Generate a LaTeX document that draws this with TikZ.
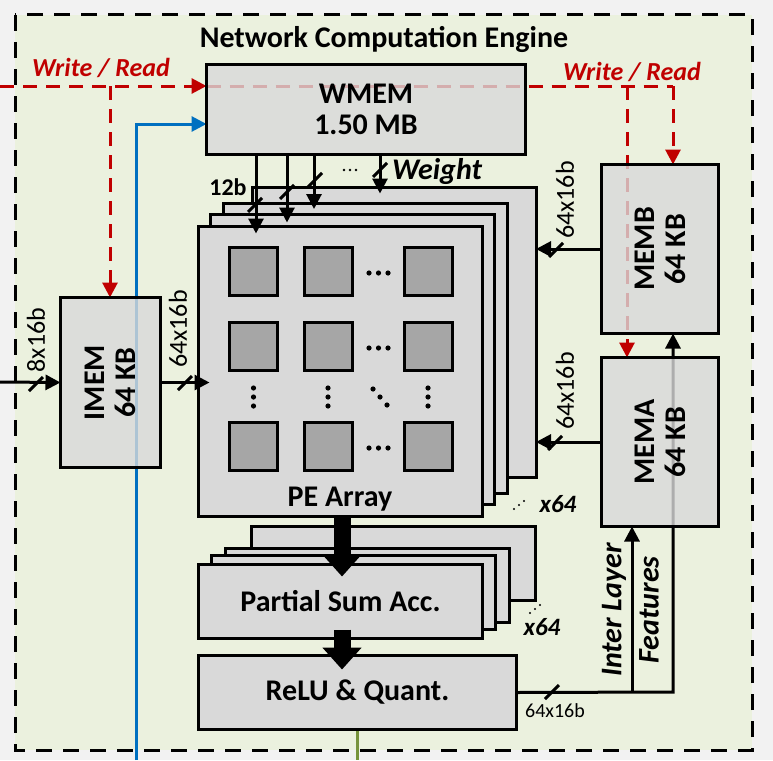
\documentclass[tikz,border=0pt]{standalone}
\usepackage{fontspec}
\setmainfont{Carlito}
\usetikzlibrary{arrows.meta}
\definecolor{pagegray}{HTML}{F2F2F2}
\definecolor{enggreen}{HTML}{EBF1DE}
\definecolor{boxgray}{HTML}{D9D9D9}
\definecolor{cellgray}{HTML}{A6A6A6}
\definecolor{wrred}{HTML}{C00000}
\definecolor{cfgblue}{HTML}{0070C0}
\definecolor{outgreen}{HTML}{77933C}
\pgfdeclarelayer{background}
\pgfdeclarelayer{lines}
\pgfsetlayers{background,lines,main}
\begin{document}
\begin{tikzpicture}
    [x=1pt,y=-1pt,>={Triangle[width=15pt,length=15pt]},
     every path/.style={line width=3pt},
     every node/.style={inner sep=0pt,outer sep=0pt},
     box/.style={draw,fill=boxgray,align=center,font=\bfseries\fontsize{30}{31}\selectfont},
     membox/.style={box,fill opacity=.8,text opacity=1},
     boxtext/.style={align=center,font=\bfseries\fontsize{30}{31}\selectfont},
     cell/.style={draw,fill=cellgray,minimum size=48pt},
     bus/.style={font=\fontsize{26}{26}\selectfont},
     note/.style={font=\bfseries\itshape\fontsize{30}{31}\selectfont},
     wr/.style={draw=wrred,dash pattern=on 14pt off 9pt},
     cfg/.style={draw=cfgblue},
     outp/.style={draw=outgreen},
     big/.style={line width=17pt,-{Triangle[width=38pt,length=22pt]}}]
    \useasboundingbox (0,0) rectangle (773,760);

    % engine frame
    \begin{pgfonlayer}{background}
        \fill[pagegray] (0,0) rectangle (773,760);
        \fill[enggreen] (15,15) rectangle (752,750);
        \draw[dash pattern=on 16pt off 11pt] (15,15) rectangle (752,750);
    \end{pgfonlayer}
    \node[font=\bfseries\fontsize{30}{30}\selectfont] (title) at (384,39) {Network Computation Engine};

    % memories
    \node[membox,minimum width=319pt,minimum height=90pt] (WMEM) at (366,109.5) {WMEM\\1.50 MB};
    \node[membox,minimum width=100pt,minimum height=170pt] (IMEM) at (110.5,382.5) {};
    \node[boxtext,rotate=90] at (IMEM) {IMEM\\64 KB};
    \node[membox,minimum width=117pt,minimum height=169pt] (MEMB) at (660,249) {};
    \node[boxtext,rotate=90] at (MEMB) {MEMB\\64 KB};
    \node[membox,minimum width=117pt,minimum height=169pt] (MEMA) at (660,442) {};
    \node[boxtext,rotate=90] at (MEMA) {MEMA\\64 KB};

    % PE array stack
    \node[box,minimum width=284pt,minimum height=290pt] (PE4) at (394,332.5) {};
    \node[box,minimum width=284pt,minimum height=290pt] (PE3) at (365.5,348) {};
    \node[box,minimum width=284pt,minimum height=290pt] (PE2) at (352.5,359.5) {};
    \node[box,minimum width=284pt,minimum height=290pt] (PE1) at (340.5,371.5) {};
    \foreach \c/\x in {1/253.5,2/328,3/428}
        \foreach \r/\y in {1/271.5,2/346.5,3/446.5}
            \node[cell] (c\r\c) at (\x,\y) {};
    \foreach \y in {273,348,448}
        \foreach \x in {369,378.5,388}
            \fill (\x,\y) circle (2.6pt);
    \foreach \x in {253.5,328,428}
        \foreach \y in {388,397,406}
            \fill (\x,\y) circle (2.6pt);
    \fill (373,389) circle (2.6pt) (380,397) circle (2.6pt) (387,405) circle (2.6pt);
    \node[boxtext] (pelabel) at (340,499) {PE Array};

    % partial sum stack and relu
    \node[box,minimum width=284pt,minimum height=74pt] (PS4) at (393,563.5) {};
    \node[box,minimum width=284pt,minimum height=74pt] (PS3) at (367.5,585) {};
    \node[box,minimum width=284pt,minimum height=74pt] (PS2) at (353,592.5) {};
    \node[box,minimum width=284pt,minimum height=74pt] (PS1) at (340.5,601.5) {Partial Sum Acc.};
    \node[box,minimum width=318pt,minimum height=74pt] (ReLU) at (357.5,692.5) {ReLU \& Quant.};

    % lines running under the memories
    \coordinate (rA) at (0,86);
    \coordinate (rB) at (673,86);
    \coordinate (rC) at (627,86);
    \coordinate (rD) at (110,86);
    \coordinate (bS) at (136,760);
    \coordinate (fJ) at (673,692);
    \coordinate (fK) at (632,692);
    \begin{pgfonlayer}{lines}
        \draw[wr,->] (rA) -- (rA -| WMEM.west);
        \draw[wr] (rA -| WMEM.west) -- (rB);
        \draw[wr,->] (rB) -- (rB |- MEMB.north);
        \draw[wr,->] (rC) -- (rC |- MEMA.north);
        \draw[wr,->] (rD) -- (rD |- IMEM.north);
        \draw[cfg,->] (bS) |- ([yshift=-14.5pt]WMEM.west);
        \draw[->] (ReLU.east) -- (fJ) -- (fJ |- MEMB.south);
        \draw[->] (fK) -- (fK |- MEMA.south);
        \draw[outp] (ReLU.south) -- (ReLU.south |- bS);
    \end{pgfonlayer}
    \node[font=\bfseries\itshape\fontsize{26}{26}\selectfont,text=wrred] (wrl) at (101,68) {Write / Read};
    \node[font=\bfseries\itshape\fontsize{26}{26}\selectfont,text=wrred] (wrr) at (632,72) {Write / Read};

    % weight buses
    \coordinate (w1) at (256,156);
    \coordinate (w2) at (287,156);
    \coordinate (w3) at (314,156);
    \coordinate (w4) at (380,156);
    \draw[->] (w1) -- ([yshift=-7pt]w1 |- PE1.north);
    \draw[->] (w2) -- ([yshift=-8pt]w2 |- PE2.north);
    \draw[->] (w3) -- ([yshift=-6pt]w3 |- PE3.north);
    \draw[->] (w4) -- ([yshift=-6pt]w4 |- PE4.north);
    \draw (255,205) ++(-7,7) -- ++(14,-14);
    \draw (287,192) ++(-7,7) -- ++(14,-14);
    \draw (315,180) ++(-7,7) -- ++(14,-14);
    \draw (380,170) ++(-7,7) -- ++(14,-14);
    \fill (344,170) circle (1.4pt) (350,170) circle (1.4pt) (356,170) circle (1.4pt);
    \node[font=\bfseries\fontsize{24}{24}\selectfont] (wbits) at (228,187) {12b};
    \node[note] (wlabel) at (437,172) {Weight};

    % feature buses
    \coordinate (in) at (0,382);
    \draw[->] (in) -- (IMEM.west);
    \draw[->] (IMEM.east) -- ([xshift=11pt]IMEM.east -| PE1.west);
    \draw[->] (MEMB.west) -- (MEMB.west -| PE4.east);
    \draw[->] (MEMA.west) -- (MEMA.west -| PE4.east);
    \draw (36,384) ++(-7,7) -- ++(14,-14);
    \draw (185,383) ++(-7,7) -- ++(14,-14);
    \draw (556,250) ++(-7,7) -- ++(14,-14);
    \draw (555,443) ++(-7,7) -- ++(14,-14);
    \draw (552,692) ++(-7,7) -- ++(14,-14);
    \node[bus,rotate=90] (b1) at (36,340) {8x16b};
    \node[bus,rotate=90] (b2) at (178,329) {64x16b};
    \node[bus,rotate=90] (b3) at (565,200) {64x16b};
    \node[bus,rotate=90] (b4) at (565,391) {64x16b};
    \node[font=\fontsize{20}{20}\selectfont] (b5) at (555,711) {64x16b};

    % accumulate and quantize
    \draw[big] ([xshift=1.5pt]PE1.south) -- ([xshift=1.5pt,yshift=-12pt]PS1.north);
    \draw[big] ([xshift=1.5pt,yshift=9pt]PS1.south) -- ([xshift=1.5pt,yshift=-14pt]PS1.south |- ReLU.north);
    \fill (514,509) circle (1.2pt) (519,505) circle (1.2pt) (524,501) circle (1.2pt);
    \fill (530,613) circle (1.2pt) (535,609) circle (1.2pt) (540,605) circle (1.2pt);
    \node[font=\bfseries\itshape\fontsize{25}{25}\selectfont] (n1) at (558,504) {x64};
    \node[font=\bfseries\itshape\fontsize{25}{25}\selectfont] (n2) at (542,627) {x64};
    \node[note,rotate=90] (il) at (614,610) {Inter Layer};
    \node[note,rotate=90] (ft) at (649,610) {Features};
\end{tikzpicture}
\end{document}
